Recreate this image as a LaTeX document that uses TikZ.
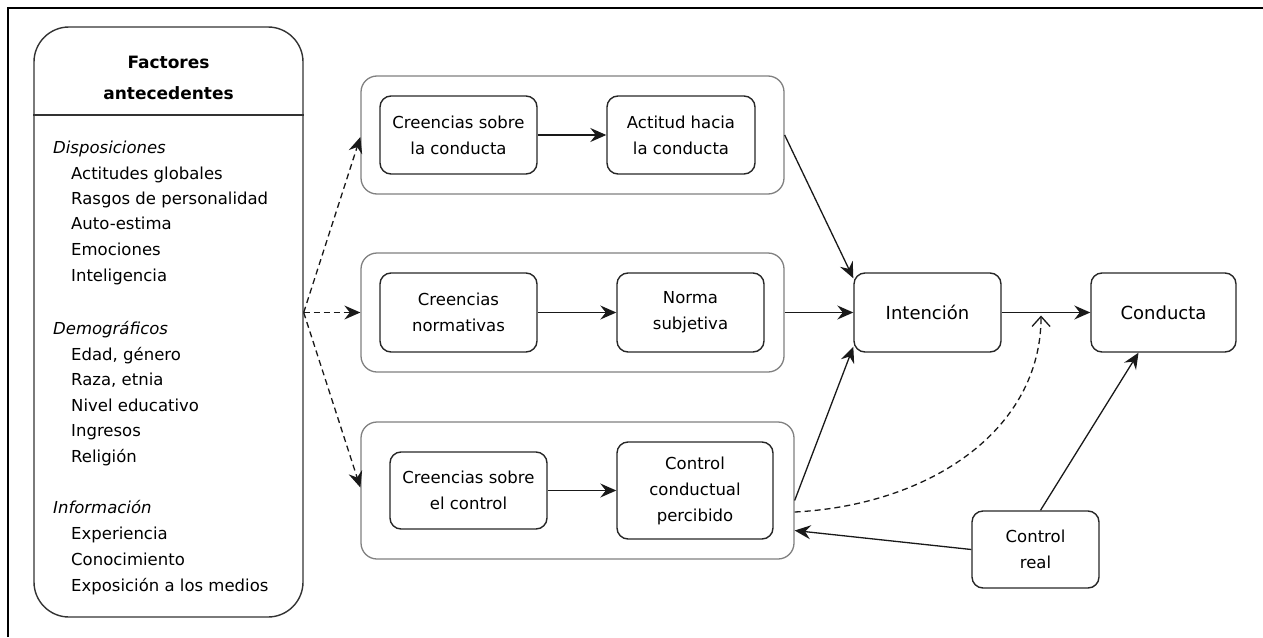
\documentclass[tikz,border=0pt]{standalone}
\usepackage{fontspec}
\setmainfont{DejaVu Sans}
\usetikzlibrary{arrows.meta,calc}
\begin{document}
\begin{tikzpicture}[x=1pt,y=-1pt,
  every node/.style={font=\fontsize{16.5}{26}\selectfont, inner sep=0pt},
  listitem/.style={anchor=base west},
  cattitle/.style={anchor=base west, font=\fontsize{16.5}{26}\selectfont\itshape},
  outerbox/.style={draw=black!80, line width=1.4pt, rounded corners=35pt},
  groupbox/.style={draw=black!50, line width=1.3pt, rounded corners=16pt},
  stepbox/.style={draw=black!85, line width=1.4pt, rounded corners=11pt, align=center},
  arr/.style={-{Stealth[length=16pt,width=14pt,inset=5.5pt]}, line width=1.3pt, black!90},
  darr/.style={arr, dash pattern=on 6pt off 4pt},
  framerule/.style={line width=2.6pt, black}
]
\useasboundingbox (0,0) rectangle (1263,637);

% frame: top and left rules
\coordinate (ftl) at (8,8);
\coordinate (ftr) at (1263,8);
\coordinate (fbl) at (8,637);
\draw[framerule] (fbl) -- (ftl) -- (ftr);

% antecedent factors panel
\node[outerbox, minimum width=269pt, minimum height=590pt] (lbox) at (168.5,322) {};
\coordinate (hdr) at (0,115);
\draw[draw=black!80, line width=1.4pt] (lbox.west |- hdr) -- (lbox.east |- hdr);
\node[anchor=base, font=\fontsize{17}{26}\selectfont\bfseries] (h1) at (168.5,68) {Factores};
\node[anchor=base, font=\fontsize{17}{26}\selectfont\bfseries] (h2) at (168.5,99) {antecedentes};

\node[cattitle] (d0) at (53,153) {Disposiciones};
\node[listitem] (d1) at (71,179) {Actitudes globales};
\node[listitem] (d2) at (71,204) {Rasgos de personalidad};
\node[listitem] (d3) at (71,229) {Auto-estima};
\node[listitem] (d4) at (71,255) {Emociones};
\node[listitem] (d5) at (71,281) {Inteligencia};

\node[cattitle] (e0) at (53,334) {Demográficos};
\node[listitem] (e1) at (71,360) {Edad, género};
\node[listitem] (e2) at (71,385) {Raza, etnia};
\node[listitem] (e3) at (71,411) {Nivel educativo};
\node[listitem] (e4) at (71,436) {Ingresos};
\node[listitem] (e5) at (71,462) {Religión};

\node[cattitle] (i0) at (53,513) {Información};
\node[listitem] (i1) at (71,539) {Experiencia};
\node[listitem] (i2) at (71,565) {Conocimiento};
\node[listitem] (i3) at (71,591) {Exposición a los medios};

% belief groups
\node[groupbox, minimum width=423pt, minimum height=118pt] (g1) at (572.5,135) {};
\node[groupbox, minimum width=423pt, minimum height=119pt] (g2) at (572.5,312.5) {};
\node[groupbox, minimum width=433pt, minimum height=137pt] (g3) at (577.5,490.5) {};

\node[stepbox, minimum width=157pt, minimum height=78pt] (a1) at (458.5,135) {Creencias sobre\\la conducta};
\node[stepbox, minimum width=148pt, minimum height=78pt] (a2) at (681,135) {Actitud hacia\\la conducta};
\node[stepbox, minimum width=157pt, minimum height=79pt] (b1) at (458.5,312.5) {Creencias\\normativas};
\node[stepbox, minimum width=147pt, minimum height=79pt] (b2) at (690.5,312.5) {Norma\\subjetiva};
\node[stepbox, minimum width=157pt, minimum height=77pt] (c1) at (468.5,490.5) {Creencias sobre\\el control};
\node[stepbox, minimum width=156pt, minimum height=97pt] (c2) at (695,490.5) {Control\\conductual\\percibido};

% intention, behaviour, actual control
\node[stepbox, minimum width=147pt, minimum height=79pt, font=\fontsize{18}{26}\selectfont] (int) at (927.5,312.5) {Intención};
\node[stepbox, minimum width=145pt, minimum height=79pt, font=\fontsize{18}{26}\selectfont] (cond) at (1163.5,312.5) {Conducta};
\node[stepbox, minimum width=127pt, minimum height=77pt] (cr) at (1035.5,549.5) {Control\\real};

% inner arrows
\draw[arr] (a1.east) -- (a2.west);
\draw[arr] (b1.east) -- (b2.west);
\draw[arr] (c1.east) -- (c2.west);

% antecedents to belief groups
\coordinate (src) at (lbox.east |- g2.east);
\draw[darr] (src) -- ([yshift=-2pt]g1.west);
\draw[darr] (src) -- (g2.west);
\draw[darr] (src) -- ([yshift=3pt]g3.west);

% groups to intention
\draw[arr] (g1.east) -- ([yshift=-6pt]int.north west);
\draw[arr] (g2.east) -- (int.west);
\draw[arr] ([yshift=-10pt]g3.east) -- ([yshift=6pt]int.south west);

% intention to behaviour
\draw[arr] (int.east) -- (cond.west);

% moderating effect of perceived control
\coordinate (mid) at ($(int.east)!0.444!(cond.west)$);
\draw[dash pattern=on 6pt off 4pt, line width=1.3pt, black!90, -{Straight Barb[length=10pt,width=18pt]}]
  ([yshift=-21.5pt]g3.east) .. controls (930,505) and (1041,430) .. ([yshift=-3pt]mid);

% actual control
\draw[arr] ([xshift=5pt]cr.north) -- ([xshift=-25pt]cond.south);
\draw[arr] (cr.west) -- ([yshift=-40pt]g3.east);
\end{tikzpicture}
\end{document}
